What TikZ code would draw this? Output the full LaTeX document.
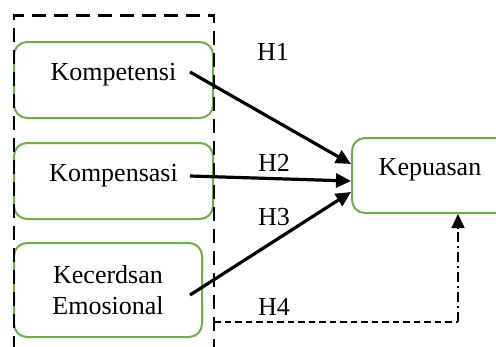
\documentclass[tikz,border=0pt]{standalone}
\usepackage{fontspec}
\setmainfont{Liberation Serif}
\usetikzlibrary{arrows.meta}
\definecolor{boxgreen}{RGB}{112,173,71}
\begin{document}
\begin{tikzpicture}[x=1pt,y=-1pt,
  font=\fontsize{26}{31}\selectfont,
  var/.style={draw=boxgreen, line width=2pt, rounded corners=13pt, inner sep=0pt,
    text height=18pt, text depth=18pt},
  var2/.style={draw=boxgreen, line width=2pt, rounded corners=13pt, inner sep=0pt, align=center},
  frame/.style={draw=black, line width=2.2pt, dash pattern=on 14pt off 8pt},
  hyp/.style={draw=black, line width=3.2pt, -{Triangle[length=15pt,width=14pt]}},
  h4line/.style={draw=black, line width=1.5pt, dash pattern=on 6.5pt off 4pt},
  h4up/.style={draw=black, line width=1.6pt, dash pattern=on 10pt off 4pt on 2pt off 4pt,
    -{Triangle[length=14pt,width=13pt]}},
  lab/.style={inner sep=0pt}
]
\useasboundingbox (0,0) rectangle (496,346);
% variable boxes
\node[var, minimum width=199pt, minimum height=76pt] (k1) at (113.5,80) {Kompetensi};
\node[var, minimum width=199pt, minimum height=76pt] (k2) at (113.5,181) {Kompensasi};
\node[var2, minimum width=188pt, minimum height=94pt] (k3) at (108,290) {Kecerdsan\\Emosional};
\node[var, minimum width=156pt, minimum height=75pt] (kep) at (430,175.5) {Kepuasan};
% dashed frame
\draw[frame] (14,350) -- (14,15.5) -- (214,15.5) -- (214,350);
% arrow endpoints
\coordinate (s1) at (190,72);
\coordinate (s2) at (190,176);
\coordinate (s3) at (190,295);
\coordinate (t1) at (351,164);
\coordinate (t2) at (351,181);
\coordinate (t3) at (351,192);
\coordinate (h4s) at (214,322);
\coordinate (h4c) at (458,322);
\coordinate (h4t) at (458,214);
\draw[hyp] (s1) -- (t1);
\draw[hyp] (s2) -- (t2);
\draw[hyp] (s3) -- (t3);
\draw[h4line] (h4s) -- (h4c);
\draw[h4up] (h4c) -- (h4t);
% labels
\node[lab] (l1) at (273,52) {H1};
\node[lab] (l2) at (274,163) {H2};
\node[lab] (l3) at (274,217) {H3};
\node[lab] (l4) at (274,307) {H4};
\end{tikzpicture}
\end{document}
